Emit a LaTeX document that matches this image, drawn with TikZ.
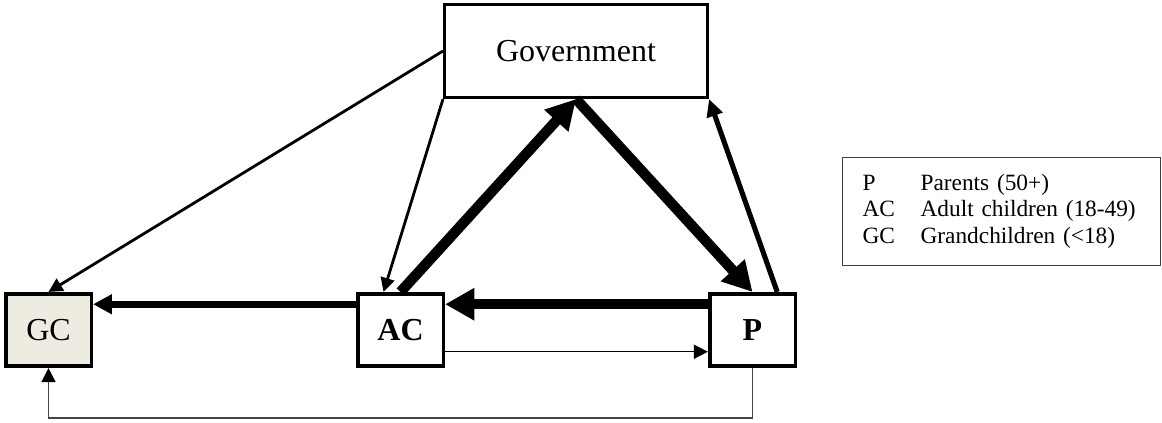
\documentclass[tikz,border=0pt]{standalone}
\usepackage{fontspec}
\setmainfont{Liberation Serif}
\usetikzlibrary{arrows.meta}
\definecolor{gcfill}{HTML}{EEECE1}
\definecolor{legendframe}{HTML}{404040}
\definecolor{loopline}{HTML}{454545}

\begin{document}
\begin{tikzpicture}[x=0.75pt,y=-0.75pt,font=\fontsize{24}{28}\selectfont]
  \tikzstyle{actor}=[draw=black, line width=2.7pt, fill=white, inner sep=0pt, minimum width=64.2pt, minimum height=54.4pt]
  \tikzstyle{govbox}=[draw=black, line width=2.5pt, fill=white, inner sep=0pt, minimum width=197pt, minimum height=69.6pt]
  \tikzstyle{legendbox}=[draw=legendframe, line width=0.9pt, fill=white, inner xsep=15pt, inner ysep=0pt, text width=208.5pt, minimum height=81pt, align=left, font=\fontsize{17.5}{20}\selectfont]
  \tikzstyle{heavyflow}=[line width=7.8pt, -{Triangle[length=22pt,width=23pt]}]
  \tikzstyle{midflow}=[line width=5.2pt, -{Triangle[length=14pt,width=14pt]}]
  \tikzstyle{lightflow}=[line width=3.8pt, -{Triangle[length=13pt,width=12pt]}]
  \tikzstyle{thinflow}=[line width=2.1pt, -{Triangle[length=10.5pt,width=10.5pt]}]
  \tikzstyle{hairflow}=[line width=1.1pt, -{Triangle[length=10.5pt,width=10.5pt,color=black]}]

  \path[use as bounding box] (0,0) rectangle (1162,423);

  \node[govbox] (gov) at (576,51) {Government};
  \node[actor, fill=gcfill] (gc) at (48.5,330) {GC};
  \node[actor] (ac) at (400.5,330) {\bfseries AC};
  \node[actor] (p) at (752.5,330) {\bfseries P};

  \node[legendbox, anchor=north west] (legend) at (842,157) {%
    \begin{tabular}{@{}p{43.5pt}@{}l@{}}
      P & Parents (50+)\\
      AC & Adult children (18-49)\\
      GC & Grandchildren (<18)
    \end{tabular}};

  \draw[thinflow] (gov.west) -- (gc.north);
  \draw[thinflow] (gov.south west) -- (ac.114);
  \draw[heavyflow] (ac.north) -- (gov.south);
  \draw[heavyflow] (gov.south) -- (p.north);
  \draw[lightflow] (p.57) -- (gov.south east);
  \draw[heavyflow] (p.150) -- (ac.30);
  \draw[midflow] (ac.150) -- (gc.30);
  \draw[hairflow] (ac.334) -- (p.206);
  \draw[hairflow, draw=loopline] (p.south) -- ++(0,50) -| (gc.south);
\end{tikzpicture}
\end{document}
